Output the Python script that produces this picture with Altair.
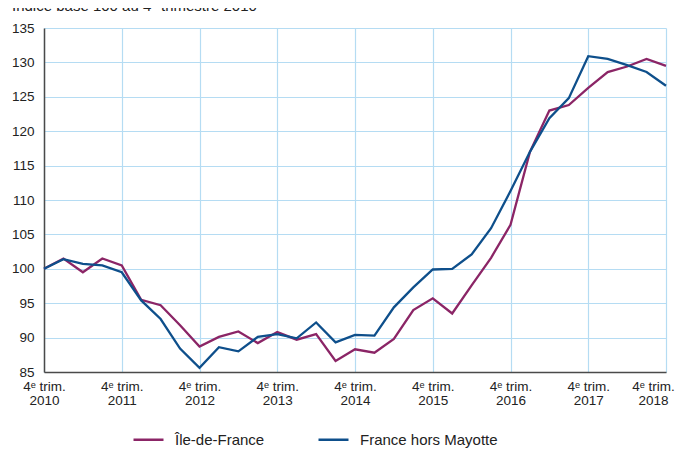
import altair as alt
import pandas as pd

# --- data -------------------------------------------------------------
quarters = list(range(33))  # 0 = 4e trim. 2010 ... 32 = 4e trim. 2018
idf = [100, 101.5, 99.5, 101.5, 100.5, 95.5, 94.7, 91.8, 88.7, 90.1,
       90.9, 89.2, 90.8, 89.7, 90.5, 86.6, 88.3, 87.8, 89.8, 94.0,
       95.7, 93.5, 97.6, 101.6, 106.4, 117.0, 123.0, 123.8, 126.3, 128.6,
       129.4, 130.5, 129.5]
fra = [100, 101.4, 100.7, 100.5, 99.5, 95.4, 92.7, 88.4, 85.6, 88.6,
       88.0, 90.1, 90.5, 89.9, 92.2, 89.3, 90.4, 90.3, 94.4, 97.3,
       99.9, 100.0, 102.1, 105.9, 111.3, 117.0, 121.9, 124.8, 130.9, 130.5,
       129.6, 128.6, 126.6]
series_names = ["Île-de-France", "France hors Mayotte"]
series_colors = ["#8b2566", "#0e4f8b"]
y_ticks = [85, 90, 95, 100, 105, 110, 115, 120, 125, 130, 135]
x_ticks = [0, 4, 8, 12, 16, 20, 24, 28, 32]
first_year = 2010
title_text = "Indice base 100 au 4\u1d49 trimestre 2010"

df = pd.DataFrame({
    "q": quarters + quarters,
    "v": idf + fra,
    "s": [series_names[0]] * len(idf) + [series_names[1]] * len(fra),
})

FONT = "Liberation Sans, Arial, sans-serif"
GRID = "#b5dcf3"
AXIS = "#4a4a4a"

lines = alt.Chart(df).mark_line(strokeWidth=2.3).encode(
    x=alt.X("q:Q",
            scale=alt.Scale(domain=[0, 32], nice=False, zero=False),
            axis=alt.Axis(values=x_ticks, title=None, grid=True, gridColor=GRID,
                          gridWidth=1.2, domainColor=AXIS, domainWidth=1.5,
                          ticks=False, labelPadding=7, labelFont=FONT,
                          labelFontSize=13.5, labelLineHeight=14, labelColor="#222",
                          labelFlush=False, labelOverlap=False, labelBound=False,
                          labelOffset={"condition": {"test": "datum.value == 32", "value": -13},
                                       "value": 0},
                          labelExpr="['4\u1d49 trim.', toString(%d + datum.value / 4)]" % first_year)),
    y=alt.Y("v:Q",
            scale=alt.Scale(domain=[85, 135], nice=False, zero=False),
            axis=alt.Axis(values=y_ticks, title=None, grid=True, gridColor=GRID,
                          gridWidth=1.2, domainColor=AXIS, domainWidth=1.5,
                          ticks=False, labelPadding=10, labelFont=FONT,
                          labelFontSize=13.5, labelColor="#222", labelFlush=False)),
    color=alt.Color("s:N",
                    scale=alt.Scale(domain=series_names, range=series_colors),
                    legend=alt.Legend(title=None, orient="none", direction="horizontal",
                                      legendX=88, legendY=395, symbolType="stroke",
                                      symbolSize=900, symbolStrokeWidth=2.5,
                                      labelFont=FONT, labelFontSize=15, labelColor="#222",
                                      labelOffset=10, columnPadding=48, labelLimit=400)),
)

title = alt.Chart(pd.DataFrame({"t": [title_text]})).mark_text(
    align="left", baseline="alphabetic", font=FONT, fontSize=15, color="#222"
).encode(text="t:N", x=alt.value(-32), y=alt.value(-17))

chart = alt.layer(lines, title).properties(
    width=622, height=344,
    autosize=alt.AutoSizeParams(type="none"),
    padding={"left": 36, "top": 20, "right": 11, "bottom": 77},
).configure_view(stroke=None)

chart.save("out.html", embed_options={"renderer": "svg", "actions": False})
